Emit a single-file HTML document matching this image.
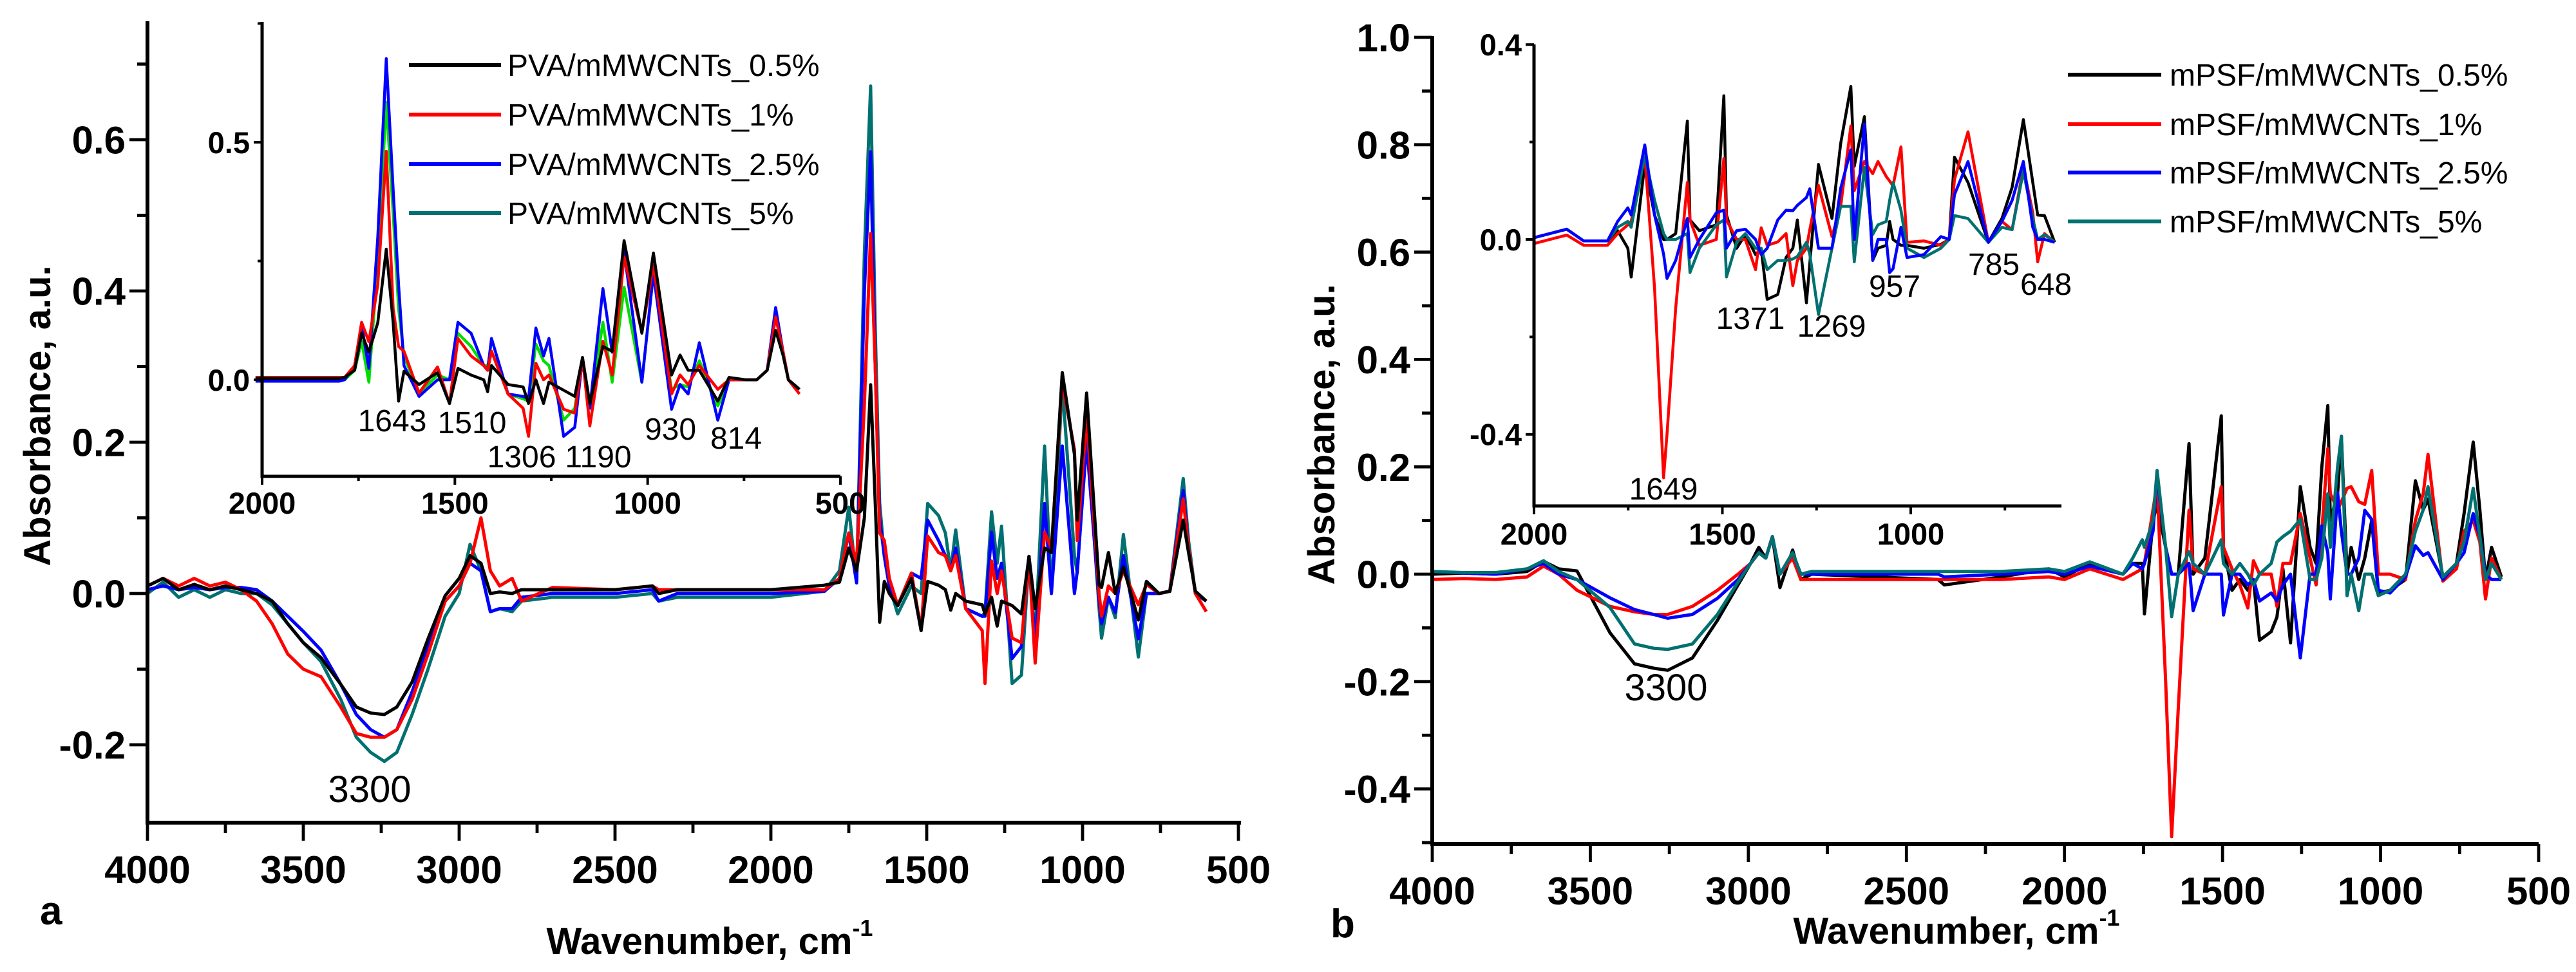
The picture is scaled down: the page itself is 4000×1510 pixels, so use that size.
<!DOCTYPE html>
<html>
<head>
<meta charset="utf-8">
<style>
  html,body{margin:0;padding:0;background:#fff;}
  svg{display:block;}
  text{font-family:"Liberation Sans",Arial,sans-serif;}
</style>
</head>
<body>
<svg id="fig" width="4000" height="1510" viewBox="0 0 4000 1510" xmlns="http://www.w3.org/2000/svg">
  <rect x="0" y="0" width="4000" height="1510" fill="#fff"/>
  <g id="panelA"></g>
  <g id="panelB"></g>
</svg>
<script>
// ---------- Panel a, main spectra ----------
const wnA = [4000,3950,3900,3850,3800,3750,3700,3650,3600,3550,3500,
3443,3380,3330,3284,3240,3200,3151,3100,3045,3000,
2965,2930,2900,2870,2830,2800,2700,2500,2380,2360,2300,2000,
1828,1780,1750,1725,1700,1680,1665,1651,1636,1620,
1593,1549,1518,1497,1462,1440,1423,1407,1375,1322,
1313,1292,1274,1260,1226,1196,1172,1152,1122,1100,
1065,1026,1017,987,947,939,917,895,869,821,
795,755,720,677,660,638,603];
const aBlack = [0.01,0.02,0.005,0.012,0.005,0.01,0.005,0.0,-0.01,-0.04,-0.065,
-0.085,-0.12,-0.15,-0.158,-0.16,-0.15,-0.117,-0.06,-0.003,0.02,
0.05,0.04,0.0,0.002,0.0,0.005,0.005,0.005,0.01,0.0,0.005,0.005,
0.011,0.015,0.06,0.03,0.1,0.276,0.12,-0.038,0.016,0.0,
-0.016,0.02,-0.049,0.016,0.011,0.005,-0.022,0.0,-0.01,-0.015,
-0.027,-0.005,-0.043,-0.01,-0.016,-0.027,0.049,-0.02,0.06,0.054,
0.292,0.184,0.097,0.265,0.011,0.008,0.054,0.0,0.035,-0.035,
0.016,0.0,0.003,0.097,0.054,0.003,-0.01];
const aRed = [0.01,0.02,0.01,0.02,0.01,0.015,0.005,-0.01,-0.04,-0.08,-0.1,
-0.11,-0.15,-0.185,-0.19,-0.19,-0.18,-0.14,-0.08,-0.01,0.01,
0.04,0.1,0.03,0.01,0.02,-0.01,0.008,0.005,0.01,0.005,0.005,0.005,
0.005,0.02,0.08,0.04,0.25,0.476,0.3,0.08,0.07,0.02,
-0.016,0.027,-0.049,0.076,0.054,0.05,0.03,0.05,-0.02,-0.049,
-0.119,0.043,0.0,0.03,-0.059,-0.065,0.049,-0.092,0.081,0.06,
0.28,0.19,0.07,0.233,0.0,-0.03,0.01,0.0,0.03,-0.015,
0.012,0.0,0.003,0.125,0.06,0.0,-0.024];
const aBlue = [0.005,0.01,0.005,0.008,0.005,0.008,0.008,0.005,-0.01,-0.03,-0.05,
-0.075,-0.12,-0.16,-0.18,-0.19,-0.18,-0.13,-0.07,-0.01,0.01,
0.04,0.03,-0.024,-0.02,-0.02,-0.005,0.0,0.0,0.005,-0.01,0.0,0.0,
0.003,0.02,0.08,0.014,0.4,0.584,0.3,0.1,0.049,0.01,
-0.016,0.027,0.02,0.097,0.07,0.05,0.03,0.06,-0.02,-0.03,
-0.03,0.081,0.02,0.04,-0.086,-0.07,0.049,-0.07,0.119,0.0,
0.195,0.0,0.03,0.2,-0.01,-0.04,-0.005,-0.025,0.05,-0.06,
0.0,0.0,0.003,0.136,0.06,0.0,-0.01];
const aTeal = [0.0,0.015,-0.005,0.005,-0.005,0.005,0.0,0.0,-0.015,-0.04,-0.065,
-0.09,-0.14,-0.19,-0.21,-0.222,-0.21,-0.16,-0.1,-0.03,0.0,
0.065,0.03,-0.024,-0.02,-0.024,-0.01,-0.005,-0.005,0.0,-0.01,-0.005,-0.005,
0.003,0.03,0.114,0.014,0.45,0.671,0.35,0.12,0.049,0.01,
-0.027,0.01,0.0,0.119,0.103,0.08,0.03,0.084,-0.02,-0.03,
-0.025,0.108,0.04,0.089,-0.119,-0.108,0.045,-0.06,0.195,0.0,
0.276,0.05,0.027,0.217,-0.02,-0.059,-0.005,-0.032,0.078,-0.084,
0.0,0.0,0.003,0.152,0.07,0.0,-0.01];

// ---------- Panel a, inset ----------
const wnAI = [2017,1900,1800,1786,1760,1742,1723,1700,1678,1660,
1646,1632,1593,1545,1514,1492,1458,1425,1415,1405,
1362,1323,1309,1290,1270,1256,1218,1189,1169,1150,
1116,1092,1061,1015,985,938,916,895,866,818,
789,746,717,690,668,649,635,606];
const aiBlack = [0.003,0.003,0.003,0.005,0.02,0.098,0.058,0.12,0.275,0.12,
-0.045,0.018,-0.01,0.015,-0.05,0.024,0.01,0.0,-0.025,0.03,
-0.01,-0.015,-0.05,0.0,-0.05,-0.005,-0.022,-0.035,0.047,-0.05,
0.07,0.06,0.293,0.098,0.267,0.01,0.052,0.02,0.02,-0.045,
0.005,0.0,0.0,0.02,0.104,0.052,0.0,-0.02];
const aiRed = [0.005,0.005,0.005,0.005,0.03,0.121,0.08,0.2,0.481,0.15,
0.07,0.06,-0.028,0.027,-0.05,0.087,0.05,0.03,0.02,0.06,
-0.03,-0.06,-0.119,0.035,0.0,0.01,-0.062,-0.07,0.047,-0.097,
0.081,0.01,0.258,0.1,0.241,-0.03,0.01,-0.01,0.03,-0.02,
0.0,0.0,0.0,0.02,0.132,0.06,0.0,-0.03];
const aiGreen = [0.0,0.0,0.0,0.0,0.02,0.081,-0.005,0.25,0.584,0.35,
0.15,0.05,-0.028,0.01,0.0,0.098,0.07,0.03,0.03,0.06,
-0.03,-0.04,-0.045,0.075,0.04,0.03,-0.085,-0.06,0.047,-0.06,
0.121,-0.005,0.195,-0.005,0.224,-0.02,-0.01,-0.015,0.04,-0.055,
0.0,0.0,0.0,0.02,0.135,0.06,0.0,-0.02];
const aiBlue = [-0.003,-0.003,-0.003,0.0,0.03,0.115,0.024,0.3,0.676,0.4,
0.2,0.03,-0.035,0.0,0.0,0.121,0.098,0.03,0.02,0.087,
-0.03,-0.035,-0.04,0.109,0.05,0.087,-0.119,-0.1,0.047,-0.06,
0.192,0.058,0.27,-0.005,0.224,-0.062,-0.01,-0.03,0.078,-0.085,
0.0,0.0,0.0,0.02,0.152,0.06,0.0,-0.02];

// ---------- Panel b, main spectra ----------
const wnB = [4000,3900,3800,3700,3648,3600,3542,3438,3360,3300,
3255,3177,3098,3033,2993,2967,2945,2924,2900,2860,
2834,2800,2600,2400,2380,2200,2050,2000,1920,1815,
1784,1754,1747,1720,1707,1680,1661,1640,1606,1593,
1556,1504,1497,1470,1445,1420,1402,1383,1346,1328,
1309,1285,1254,1223,1204,1186,1167,1159,1136,1124,
1106,1093,1069,1050,1028,1007,970,921,890,865,
850,803,760,736,707,686,668,649,618];
const bBlack = [0.0,0.002,0.0,0.005,0.024,0.01,0.006,-0.109,-0.167,-0.175,
-0.179,-0.156,-0.086,-0.02,0.02,0.05,0.03,0.07,-0.025,0.045,
-0.01,0.0,-0.005,-0.01,-0.02,-0.005,0.01,-0.005,0.02,0.0,
0.02,0.02,-0.074,0.1,0.13,0.05,0.0,0.0,0.243,0.0,
0.03,0.295,0.05,-0.03,-0.01,-0.03,-0.01,-0.123,-0.107,-0.08,
0.01,-0.128,0.163,0.05,0.02,0.2,0.314,0.1,0.15,0.257,
0.0,0.05,-0.01,0.03,0.1,-0.035,-0.03,-0.01,0.174,0.12,
0.14,-0.005,0.02,0.113,0.246,0.12,-0.01,0.05,-0.005];
const bRed = [-0.01,-0.008,-0.01,-0.005,0.015,0.0,-0.03,-0.06,-0.07,-0.075,
-0.075,-0.06,-0.03,0.0,0.02,0.04,0.03,0.07,0.0,0.03,
-0.01,-0.01,-0.01,-0.01,-0.01,-0.01,-0.005,-0.01,0.01,-0.01,
0.0,0.01,0.02,0.12,0.168,-0.2,-0.489,-0.25,0.119,0.01,
0.0,0.163,0.05,0.01,-0.02,-0.063,0.025,0.0,0.0,-0.06,
0.02,0.02,0.113,0.03,-0.02,0.08,0.234,0.15,0.12,0.135,
0.16,0.163,0.135,0.13,0.193,0.0,0.0,-0.01,0.1,0.15,
0.223,-0.013,0.01,0.08,0.1,0.06,-0.046,0.03,-0.01];
const bBlue = [0.005,0.002,0.0,0.01,0.02,0.0,-0.01,-0.044,-0.066,-0.075,
-0.082,-0.075,-0.045,-0.01,0.02,0.04,0.03,0.07,0.0,0.04,
0.0,0.0,0.0,0.0,-0.005,0.0,0.005,0.0,0.015,0.0,
0.02,0.01,0.02,0.08,0.185,0.05,0.0,0.0,0.02,-0.068,
0.0,0.0,-0.076,0.0,0.0,-0.02,-0.01,-0.05,-0.035,-0.05,
-0.02,0.0,-0.156,0.0,0.0,0.09,0.04,-0.046,0.152,0.08,
0.0,0.0,0.03,0.119,0.102,-0.03,-0.035,-0.005,0.053,0.035,
0.04,-0.01,0.02,0.04,0.113,0.07,0.0,-0.01,-0.01];
const bTeal = [0.005,0.003,0.003,0.01,0.025,0.005,-0.01,-0.062,-0.13,-0.138,
-0.14,-0.13,-0.075,-0.015,0.02,0.04,0.03,0.07,0.0,0.04,
0.0,0.005,0.005,0.005,0.005,0.005,0.01,0.005,0.023,0.0,
0.03,0.064,0.05,0.1,0.193,0.05,-0.079,0.0,0.042,0.02,
0.0,0.064,0.02,0.0,0.02,0.0,-0.02,0.0,0.02,0.06,
0.07,0.08,0.102,-0.01,-0.01,0.03,0.15,0.05,0.2,0.257,
-0.04,0.0,-0.068,0.0,0.0,-0.04,-0.03,0.0,0.08,0.12,
0.163,-0.005,0.02,0.06,0.16,0.07,-0.01,0.02,-0.01];

// ---------- Panel b, inset ----------
const wnBI = [2003,1913,1868,1805,1778,1751,1742,1706,1680,1656,
1647,1624,1593,1586,1561,1516,1496,1489,1462,1439,
1412,1397,1381,1353,1331,1313,1301,1277,1268,1245,
1209,1186,1159,1150,1123,1101,1087,1065,1056,1047,
1026,1010,965,920,898,884,848,794,758,731,
701,676,663,645,618];
const biBlack = [0.003,0.021,-0.003,-0.003,0.018,-0.018,-0.077,0.154,0.05,0.0,
0.0,0.012,0.243,0.04,0.018,0.03,0.295,0.05,-0.018,0.01,
-0.031,-0.02,-0.123,-0.113,-0.037,-0.018,0.04,-0.13,-0.05,0.154,
0.043,0.197,0.314,0.15,0.252,-0.043,-0.018,-0.012,0.037,0.0,
-0.012,-0.012,-0.018,-0.01,0.0,0.169,0.117,-0.006,0.043,0.107,
0.246,0.117,0.05,0.049,-0.006];
const biRed = [-0.009,0.009,-0.012,-0.012,0.012,0.03,0.037,0.172,-0.1,-0.489,
-0.4,-0.141,0.117,0.04,-0.012,0.0,0.166,0.04,0.0,0.0,
-0.062,0.024,-0.012,-0.005,0.012,-0.095,-0.043,-0.018,0.02,0.111,
0.006,0.068,0.233,0.1,0.16,0.135,0.16,0.129,0.12,0.11,
0.19,-0.006,-0.003,-0.012,0.0,0.123,0.221,-0.006,0.037,0.02,
0.148,0.055,-0.046,0.012,-0.006];
const biBlue = [0.003,0.021,-0.003,-0.003,0.037,0.065,0.05,0.194,0.05,-0.03,
-0.08,-0.043,0.043,-0.037,0.0,0.055,0.06,-0.018,0.018,0.021,
0.0,-0.031,-0.018,0.04,0.06,0.059,0.07,0.086,0.104,-0.018,
-0.018,0.105,0.184,0.0,0.237,-0.043,0.0,0.0,-0.068,-0.06,
0.025,-0.037,-0.031,0.006,0.0,0.092,0.16,-0.006,0.037,0.08,
0.16,0.025,0.0,0.0,-0.006];
const biTeal = [0.003,0.021,-0.003,-0.003,0.025,0.037,0.025,0.172,0.08,0.012,
0.0,0.0,0.012,-0.068,-0.018,0.03,0.04,-0.077,-0.006,0.012,
-0.018,-0.018,-0.062,-0.043,-0.043,-0.04,-0.035,-0.006,-0.03,-0.154,
-0.018,0.068,0.068,-0.046,0.148,0.01,0.03,0.037,0.08,0.117,
0.06,-0.018,-0.037,-0.018,0.0,0.049,0.043,-0.006,0.025,0.02,
0.14,0.043,0.0,0.01,-0.006];

const legendA = ["PVA/mMWCNTs_0.5%","PVA/mMWCNTs_1%","PVA/mMWCNTs_2.5%","PVA/mMWCNTs_5%"];
const legendB = ["mPSF/mMWCNTs_0.5%","mPSF/mMWCNTs_1%","mPSF/mMWCNTs_2.5%","mPSF/mMWCNTs_5%"];
const xTicksMain = [4000,3500,3000,2500,2000,1500,1000,500];
const yTicksA = [-0.2,0.0,0.2,0.4,0.6];
const yTicksB = [-0.4,-0.2,0.0,0.2,0.4,0.6,0.8,1.0];
const xTicksInsetA = [2000,1500,1000,500];
const yTicksInsetA = [0.0,0.5];
const xTicksInsetB = [2000,1500,1000];
const yTicksInsetB = [-0.4,0.0,0.4];
const peaksA = [["1643",609,670],["1510",733,673],["1306",810,726],["1190",929,726],["930",1041,683],["814",1143,697],["3300",574,1246]];
const peaksB = [["1649",2583,776],["1371",2718,511],["1269",2844,523],["957",2942,461],["785",3096,427],["648",3177,458],["3300",2587,1088]];

const NS = "http://www.w3.org/2000/svg";
function mk(parent, tag, attrs, txt){
  const e = document.createElementNS(NS, tag);
  for (const k in attrs) e.setAttribute(k, attrs[k]);
  if (txt !== undefined) e.textContent = txt;
  parent.appendChild(e);
  return e;
}
function scale(d0,d1,r0,r1){ return v => r0 + (v-d0)*(r1-r0)/(d1-d0); }

function axes(g, o){
  // o: x0,x1,y0(bottom px),y1(top px), sx, sy, xt, yt, xMinor, yMinor, lw, maj, min, fs, fmtY
  const ax = mk(g,'g',{});
  
  
  mk(ax,'line',{x1:o.x0,y1:o.y1,x2:o.x0,y2:o.y0+o.lw/2,stroke:'#000','stroke-width':o.lw});
  mk(ax,'line',{x1:o.x0-o.lw/2,y1:o.y0,x2:o.x1,y2:o.y0,stroke:'#000','stroke-width':o.lw});
  o.xt.forEach(t=>{
    const x=o.sx(t);
    mk(ax,'line',{x1:x,y1:o.y0,x2:x,y2:o.y0+o.maj,stroke:'#000','stroke-width':o.lw*0.8});
    const tl = mk(ax,'text',{x:x,y:o.xly,'font-size':o.fs,'font-weight':'bold','text-anchor':'middle'},String(t));
    
    
  });
  o.xMinor.forEach(t=>{
    const x=o.sx(t);
    mk(ax,'line',{x1:x,y1:o.y0,x2:x,y2:o.y0+o.min,stroke:'#000','stroke-width':o.lw*0.8});
  });
  o.yt.forEach(t=>{
    const y=o.sy(t);
    mk(ax,'line',{x1:o.x0-o.maj,y1:y,x2:o.x0,y2:y,stroke:'#000','stroke-width':o.lw*0.8});
    const tl = mk(ax,'text',{x:o.x0-o.maj-6,y:y+o.fs*0.36,'font-size':o.fs,'font-weight':'bold','text-anchor':'end'},t.toFixed(1));
    
    
  });
  o.yMinor.forEach(t=>{
    const y=o.sy(t);
    mk(ax,'line',{x1:o.x0-o.min,y1:y,x2:o.x0,y2:y,stroke:'#000','stroke-width':o.lw*0.8});
  });
}
function series(g, wn, vals, sx, sy, color, w, name){
  const pts = wn.map((w0,i)=>sx(w0).toFixed(1)+','+sy(vals[i]).toFixed(1)).join(' ');
  const p = mk(g,'polyline',{points:pts,fill:'none',stroke:color,'stroke-width':w,'stroke-linejoin':'round'});
  
  
}
function legend(g, labels, colors, lx0, lx1, tx, ys, fs, tl, name){
  labels.forEach((lab,i)=>{
    const e = mk(g,'g',{});
    
    
    mk(e,'line',{x1:lx0,y1:ys[i],x2:lx1,y2:ys[i],stroke:colors[i],'stroke-width':6});
    mk(e,'text',{x:tx,y:ys[i]+17,'font-size':fs,textLength:tl,lengthAdjust:'spacingAndGlyphs'},lab);
  });
}

const cols = ['#000000','#ff0000','#0000ff','#007070'];

// ===== Panel a =====
const gA = document.getElementById('panelA');
const sxA = scale(4000,500,229,1923), syA = scale(0,1,922,922-1175);
series(gA, wnA, aTeal, sxA, syA, cols[3], 5, 'series-a-5pct');
series(gA, wnA, aBlue, sxA, syA, cols[2], 5, 'series-a-2-5pct');
series(gA, wnA, aRed, sxA, syA, cols[1], 5, 'series-a-1pct');
series(gA, wnA, aBlack, sxA, syA, cols[0], 5, 'series-a-0-5pct');
axes(gA,{name:'main-a',x0:229,x1:1927,y0:1278,y1:33,sx:sxA,sy:syA,xt:xTicksMain,yt:yTicksA,
  xMinor:[3750,3250,2750,2250,1750,1250,750],yMinor:[-0.1,0.1,0.3,0.5,0.7],lw:6,maj:28,min:16,fs:60,xly:1372});
const sxAI = scale(2000,500,407,1305), syAI = scale(0,1,590,590-738);
series(gA, wnAI, aiGreen, sxAI, syAI, '#00dd00', 4.5, 'inset-a-5pct');
series(gA, wnAI, aiBlue, sxAI, syAI, cols[2], 4.5, 'inset-a-2-5pct');
series(gA, wnAI, aiRed, sxAI, syAI, cols[1], 4.5, 'inset-a-1pct');
series(gA, wnAI, aiBlack, sxAI, syAI, cols[0], 4.5, 'inset-a-0-5pct');
axes(gA,{name:'inset-a',x0:407,x1:1305,y0:740,y1:34,sx:sxAI,sy:syAI,xt:xTicksInsetA,yt:yTicksInsetA,
  xMinor:[1750,1250,750],yMinor:[0.25,0.75],lw:5,maj:13,min:7,fs:47,xly:798});
legend(gA, legendA, cols, 635, 778, 788, [101,178,255,331], 48, null, 'legend-a');
peaksA.forEach(p=>{
  const t = mk(gA,'text',{x:p[1],y:p[2],'font-size':p[0]==='3300'?58:48,'text-anchor':'middle'},p[0]);
  
  
});

// ===== Panel b =====
const gB = document.getElementById('panelB');
const sxB = scale(4000,500,2224,3942), syB = scale(0,1,892,892-834);
series(gB, wnB, bBlack, sxB, syB, cols[0], 5, 'series-b-0-5pct');
series(gB, wnB, bRed, sxB, syB, cols[1], 5, 'series-b-1pct');
series(gB, wnB, bBlue, sxB, syB, cols[2], 5, 'series-b-2-5pct');
series(gB, wnB, bTeal, sxB, syB, cols[3], 5, 'series-b-5pct');
axes(gB,{name:'main-b',x0:2224,x1:3942,y0:1311,y1:56,sx:sxB,sy:syB,xt:xTicksMain,yt:yTicksB,
  xMinor:[3750,3250,2750,2250,1750,1250,750],yMinor:[-0.5,-0.3,-0.1,0.1,0.3,0.5,0.7,0.9],lw:6,maj:28,min:16,fs:60,xly:1405});
const sxBI = scale(2000,600,2382,3201), syBI = scale(0,1,372,372-757);
series(gB, wnBI, biBlack, sxBI, syBI, cols[0], 4.5, 'inset-b-0-5pct');
series(gB, wnBI, biRed, sxBI, syBI, cols[1], 4.5, 'inset-b-1pct');
series(gB, wnBI, biTeal, sxBI, syBI, cols[3], 4.5, 'inset-b-5pct');
series(gB, wnBI, biBlue, sxBI, syBI, cols[2], 4.5, 'inset-b-2-5pct');
axes(gB,{name:'inset-b',x0:2382,x1:3201,y0:786,y1:69,sx:sxBI,sy:syBI,xt:xTicksInsetB,yt:yTicksInsetB,
  xMinor:[1750,1250,750],yMinor:[-0.2,0.2],lw:5,maj:13,min:7,fs:47,xly:846});
legend(gB, legendB, cols, 3211, 3356, 3369, [116,193,268,344], 48, null, 'legend-b');
peaksB.forEach(p=>{
  const t = mk(gB,'text',{x:p[1],y:p[2],'font-size':p[0]==='3300'?58:48,'text-anchor':'middle'},p[0]);
  
  
});
</script>
<svg style="position:absolute;left:0;top:0" width="4000" height="1510">
  <text x="1102" y="1482" font-size="58" font-weight="bold" text-anchor="middle" font-family="Liberation Sans, Arial, sans-serif">Wavenumber, cm<tspan font-size="36" dy="-28">-1</tspan></text>
  <text transform="translate(78,646) rotate(-90)" font-size="58" font-weight="bold" text-anchor="middle" font-family="Liberation Sans, Arial, sans-serif">Absorbance, a.u.</text>
  <text x="62" y="1436" font-size="62" font-weight="bold" font-family="Liberation Sans, Arial, sans-serif">a</text>
  <text x="3038" y="1466" font-size="58" font-weight="bold" text-anchor="middle" font-family="Liberation Sans, Arial, sans-serif">Wavenumber, cm<tspan font-size="36" dy="-28">-1</tspan></text>
  <text transform="translate(2072,675) rotate(-90)" font-size="58" font-weight="bold" text-anchor="middle" font-family="Liberation Sans, Arial, sans-serif">Absorbance, a.u.</text>
  <text x="2066" y="1456" font-size="62" font-weight="bold" font-family="Liberation Sans, Arial, sans-serif">b</text>
</svg>
</body>
</html>
